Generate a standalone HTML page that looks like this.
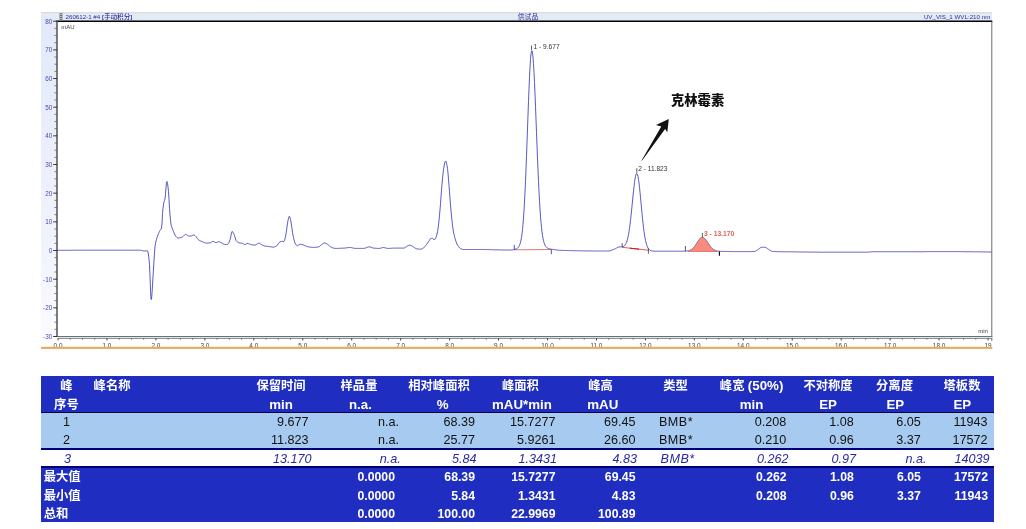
<!DOCTYPE html>
<html lang="zh"><head><meta charset="utf-8"><title>chromatogram</title>
<style>
html,body{margin:0;padding:0;background:#fff}
body{width:1026px;height:529px;position:relative;overflow:hidden;font-family:"Liberation Sans","Noto Sans CJK SC",sans-serif}
.bg{position:absolute;left:41.0px;width:953.0px}
.c{position:absolute;font-size:12.6px;white-space:nowrap;color:#111}
.c.h{color:#fff;font-weight:bold;font-size:12.3px}
.c.h.L,.c.h .L{font-size:13.3px}
.c.h.s{font-size:12.25px}
.c.b{letter-spacing:0.45px}
.c.i{color:#2a2aa0;font-style:italic}
</style></head><body>
<svg width="1026" height="360" viewBox="0 0 1026 360" style="position:absolute;left:0;top:0">
<defs>
<linearGradient id="tb" x1="0" y1="0" x2="0" y2="1"><stop offset="0" stop-color="#d9d9d6"/><stop offset="0.25" stop-color="#e6ecf4"/><stop offset="1" stop-color="#dde8f8"/></linearGradient>
<linearGradient id="ys" x1="0" y1="0" x2="0" y2="1"><stop offset="0" stop-color="#e3e9fa"/><stop offset="0.35" stop-color="#eaeefb"/><stop offset="0.7" stop-color="#f1f3fc"/><stop offset="1" stop-color="#fbfbff"/></linearGradient>
</defs>
<style>
text{font-family:"Liberation Sans","Noto Sans CJK SC",sans-serif}
.yl{font-size:6.4px;fill:#4a4ab0}
.xl{font-size:6.4px;fill:#444}
.tt{font-size:6.2px;fill:#2e2e9c}
.pk{font-size:6.6px;fill:#333}
</style>
<rect x="41" y="12" width="16" height="326" fill="url(#ys)"/>
<rect x="41" y="12" width="951" height="9.2" fill="url(#tb)"/>
<rect x="57" y="21.2" width="934.8" height="315.3" fill="#fff"/>
<!-- title bar -->
<rect x="59.6" y="13.2" width="2.8" height="6.6" fill="#6a6a72"/>
<rect x="60.2" y="14" width="1.6" height="1" fill="#c8c8d0"/><rect x="60.2" y="16" width="1.6" height="1" fill="#c8c8d0"/><rect x="60.2" y="18" width="1.6" height="1" fill="#c8c8d0"/>
<text x="65.5" y="19.2" class="tt">260612-1 #4 <tspan style="font-weight:bold;font-size:5.8px">[</tspan><tspan style="font-weight:500;font-size:6.6px">手动积分</tspan><tspan style="font-weight:bold;font-size:5.8px">]</tspan></text>
<text x="528" y="19.3" text-anchor="middle" class="tt" font-size="6.8px" style="font-size:6.8px">供试品</text>
<text x="990.3" y="19.2" text-anchor="end" class="tt">UV_VIS_1 WVL:210 nm</text>
<!-- frame -->
<line x1="56.2" y1="21.2" x2="992.3" y2="21.2" stroke="#000" stroke-width="1.4"/>
<line x1="991.8" y1="21.2" x2="991.8" y2="337" stroke="#505050" stroke-width="0.85"/>
<line x1="991.8" y1="338" x2="991.8" y2="340.8" stroke="#444" stroke-width="0.85"/>
<line x1="57" y1="336.6" x2="992.3" y2="336.6" stroke="#5a6468" stroke-width="1"/>
<line x1="57" y1="21.2" x2="57" y2="337" stroke="#666" stroke-width="1.7"/>
<line x1="58" y1="338.4" x2="992.3" y2="338.4" stroke="#777" stroke-width="0.9"/>
<line x1="53.2" y1="21.20" x2="57" y2="21.20" stroke="#222" stroke-width="0.9"/><line x1="54.4" y1="28.37" x2="57" y2="28.37" stroke="#555" stroke-width="0.7"/><line x1="54.4" y1="35.53" x2="57" y2="35.53" stroke="#555" stroke-width="0.7"/><line x1="54.4" y1="42.70" x2="57" y2="42.70" stroke="#555" stroke-width="0.7"/><line x1="53.2" y1="49.86" x2="57" y2="49.86" stroke="#222" stroke-width="0.9"/><line x1="54.4" y1="57.03" x2="57" y2="57.03" stroke="#555" stroke-width="0.7"/><line x1="54.4" y1="64.20" x2="57" y2="64.20" stroke="#555" stroke-width="0.7"/><line x1="54.4" y1="71.36" x2="57" y2="71.36" stroke="#555" stroke-width="0.7"/><line x1="53.2" y1="78.53" x2="57" y2="78.53" stroke="#222" stroke-width="0.9"/><line x1="54.4" y1="85.69" x2="57" y2="85.69" stroke="#555" stroke-width="0.7"/><line x1="54.4" y1="92.86" x2="57" y2="92.86" stroke="#555" stroke-width="0.7"/><line x1="54.4" y1="100.03" x2="57" y2="100.03" stroke="#555" stroke-width="0.7"/><line x1="53.2" y1="107.19" x2="57" y2="107.19" stroke="#222" stroke-width="0.9"/><line x1="54.4" y1="114.36" x2="57" y2="114.36" stroke="#555" stroke-width="0.7"/><line x1="54.4" y1="121.52" x2="57" y2="121.52" stroke="#555" stroke-width="0.7"/><line x1="54.4" y1="128.69" x2="57" y2="128.69" stroke="#555" stroke-width="0.7"/><line x1="53.2" y1="135.85" x2="57" y2="135.85" stroke="#222" stroke-width="0.9"/><line x1="54.4" y1="143.02" x2="57" y2="143.02" stroke="#555" stroke-width="0.7"/><line x1="54.4" y1="150.19" x2="57" y2="150.19" stroke="#555" stroke-width="0.7"/><line x1="54.4" y1="157.35" x2="57" y2="157.35" stroke="#555" stroke-width="0.7"/><line x1="53.2" y1="164.52" x2="57" y2="164.52" stroke="#222" stroke-width="0.9"/><line x1="54.4" y1="171.68" x2="57" y2="171.68" stroke="#555" stroke-width="0.7"/><line x1="54.4" y1="178.85" x2="57" y2="178.85" stroke="#555" stroke-width="0.7"/><line x1="54.4" y1="186.02" x2="57" y2="186.02" stroke="#555" stroke-width="0.7"/><line x1="53.2" y1="193.18" x2="57" y2="193.18" stroke="#222" stroke-width="0.9"/><line x1="54.4" y1="200.35" x2="57" y2="200.35" stroke="#555" stroke-width="0.7"/><line x1="54.4" y1="207.51" x2="57" y2="207.51" stroke="#555" stroke-width="0.7"/><line x1="54.4" y1="214.68" x2="57" y2="214.68" stroke="#555" stroke-width="0.7"/><line x1="53.2" y1="221.85" x2="57" y2="221.85" stroke="#222" stroke-width="0.9"/><line x1="54.4" y1="229.01" x2="57" y2="229.01" stroke="#555" stroke-width="0.7"/><line x1="54.4" y1="236.18" x2="57" y2="236.18" stroke="#555" stroke-width="0.7"/><line x1="54.4" y1="243.34" x2="57" y2="243.34" stroke="#555" stroke-width="0.7"/><line x1="53.2" y1="250.51" x2="57" y2="250.51" stroke="#222" stroke-width="0.9"/><line x1="54.4" y1="257.68" x2="57" y2="257.68" stroke="#555" stroke-width="0.7"/><line x1="54.4" y1="264.84" x2="57" y2="264.84" stroke="#555" stroke-width="0.7"/><line x1="54.4" y1="272.01" x2="57" y2="272.01" stroke="#555" stroke-width="0.7"/><line x1="53.2" y1="279.17" x2="57" y2="279.17" stroke="#222" stroke-width="0.9"/><line x1="54.4" y1="286.34" x2="57" y2="286.34" stroke="#555" stroke-width="0.7"/><line x1="54.4" y1="293.50" x2="57" y2="293.50" stroke="#555" stroke-width="0.7"/><line x1="54.4" y1="300.67" x2="57" y2="300.67" stroke="#555" stroke-width="0.7"/><line x1="53.2" y1="307.84" x2="57" y2="307.84" stroke="#222" stroke-width="0.9"/><line x1="54.4" y1="315.00" x2="57" y2="315.00" stroke="#555" stroke-width="0.7"/><line x1="54.4" y1="322.17" x2="57" y2="322.17" stroke="#555" stroke-width="0.7"/><line x1="54.4" y1="329.33" x2="57" y2="329.33" stroke="#555" stroke-width="0.7"/><line x1="53.2" y1="336.50" x2="57" y2="336.50" stroke="#222" stroke-width="0.9"/>
<text x="52.3" y="23.70" text-anchor="end" class="yl">80</text><text x="52.3" y="52.36" text-anchor="end" class="yl">70</text><text x="52.3" y="81.03" text-anchor="end" class="yl">60</text><text x="52.3" y="109.69" text-anchor="end" class="yl">50</text><text x="52.3" y="138.35" text-anchor="end" class="yl">40</text><text x="52.3" y="167.02" text-anchor="end" class="yl">30</text><text x="52.3" y="195.68" text-anchor="end" class="yl">20</text><text x="52.3" y="224.35" text-anchor="end" class="yl">10</text><text x="52.3" y="253.01" text-anchor="end" class="yl">0</text><text x="52.3" y="281.67" text-anchor="end" class="yl">-10</text><text x="52.3" y="310.34" text-anchor="end" class="yl">-20</text><text x="52.3" y="339.00" text-anchor="end" class="yl">-30</text>
<line x1="58.00" y1="338.4" x2="58.00" y2="340.4" stroke="#222" stroke-width="0.9"/><line x1="70.24" y1="338.4" x2="70.24" y2="339.7" stroke="#444" stroke-width="0.8"/><line x1="82.47" y1="338.4" x2="82.47" y2="339.7" stroke="#444" stroke-width="0.8"/><line x1="94.71" y1="338.4" x2="94.71" y2="339.7" stroke="#444" stroke-width="0.8"/><line x1="106.95" y1="338.4" x2="106.95" y2="340.4" stroke="#222" stroke-width="0.9"/><line x1="119.19" y1="338.4" x2="119.19" y2="339.7" stroke="#444" stroke-width="0.8"/><line x1="131.43" y1="338.4" x2="131.43" y2="339.7" stroke="#444" stroke-width="0.8"/><line x1="143.66" y1="338.4" x2="143.66" y2="339.7" stroke="#444" stroke-width="0.8"/><line x1="155.90" y1="338.4" x2="155.90" y2="340.4" stroke="#222" stroke-width="0.9"/><line x1="168.14" y1="338.4" x2="168.14" y2="339.7" stroke="#444" stroke-width="0.8"/><line x1="180.38" y1="338.4" x2="180.38" y2="339.7" stroke="#444" stroke-width="0.8"/><line x1="192.61" y1="338.4" x2="192.61" y2="339.7" stroke="#444" stroke-width="0.8"/><line x1="204.85" y1="338.4" x2="204.85" y2="340.4" stroke="#222" stroke-width="0.9"/><line x1="217.09" y1="338.4" x2="217.09" y2="339.7" stroke="#444" stroke-width="0.8"/><line x1="229.33" y1="338.4" x2="229.33" y2="339.7" stroke="#444" stroke-width="0.8"/><line x1="241.56" y1="338.4" x2="241.56" y2="339.7" stroke="#444" stroke-width="0.8"/><line x1="253.80" y1="338.4" x2="253.80" y2="340.4" stroke="#222" stroke-width="0.9"/><line x1="266.04" y1="338.4" x2="266.04" y2="339.7" stroke="#444" stroke-width="0.8"/><line x1="278.27" y1="338.4" x2="278.27" y2="339.7" stroke="#444" stroke-width="0.8"/><line x1="290.51" y1="338.4" x2="290.51" y2="339.7" stroke="#444" stroke-width="0.8"/><line x1="302.75" y1="338.4" x2="302.75" y2="340.4" stroke="#222" stroke-width="0.9"/><line x1="314.99" y1="338.4" x2="314.99" y2="339.7" stroke="#444" stroke-width="0.8"/><line x1="327.23" y1="338.4" x2="327.23" y2="339.7" stroke="#444" stroke-width="0.8"/><line x1="339.46" y1="338.4" x2="339.46" y2="339.7" stroke="#444" stroke-width="0.8"/><line x1="351.70" y1="338.4" x2="351.70" y2="340.4" stroke="#222" stroke-width="0.9"/><line x1="363.94" y1="338.4" x2="363.94" y2="339.7" stroke="#444" stroke-width="0.8"/><line x1="376.18" y1="338.4" x2="376.18" y2="339.7" stroke="#444" stroke-width="0.8"/><line x1="388.41" y1="338.4" x2="388.41" y2="339.7" stroke="#444" stroke-width="0.8"/><line x1="400.65" y1="338.4" x2="400.65" y2="340.4" stroke="#222" stroke-width="0.9"/><line x1="412.89" y1="338.4" x2="412.89" y2="339.7" stroke="#444" stroke-width="0.8"/><line x1="425.12" y1="338.4" x2="425.12" y2="339.7" stroke="#444" stroke-width="0.8"/><line x1="437.36" y1="338.4" x2="437.36" y2="339.7" stroke="#444" stroke-width="0.8"/><line x1="449.60" y1="338.4" x2="449.60" y2="340.4" stroke="#222" stroke-width="0.9"/><line x1="461.84" y1="338.4" x2="461.84" y2="339.7" stroke="#444" stroke-width="0.8"/><line x1="474.08" y1="338.4" x2="474.08" y2="339.7" stroke="#444" stroke-width="0.8"/><line x1="486.31" y1="338.4" x2="486.31" y2="339.7" stroke="#444" stroke-width="0.8"/><line x1="498.55" y1="338.4" x2="498.55" y2="340.4" stroke="#222" stroke-width="0.9"/><line x1="510.79" y1="338.4" x2="510.79" y2="339.7" stroke="#444" stroke-width="0.8"/><line x1="523.03" y1="338.4" x2="523.03" y2="339.7" stroke="#444" stroke-width="0.8"/><line x1="535.26" y1="338.4" x2="535.26" y2="339.7" stroke="#444" stroke-width="0.8"/><line x1="547.50" y1="338.4" x2="547.50" y2="340.4" stroke="#222" stroke-width="0.9"/><line x1="559.74" y1="338.4" x2="559.74" y2="339.7" stroke="#444" stroke-width="0.8"/><line x1="571.98" y1="338.4" x2="571.98" y2="339.7" stroke="#444" stroke-width="0.8"/><line x1="584.21" y1="338.4" x2="584.21" y2="339.7" stroke="#444" stroke-width="0.8"/><line x1="596.45" y1="338.4" x2="596.45" y2="340.4" stroke="#222" stroke-width="0.9"/><line x1="608.69" y1="338.4" x2="608.69" y2="339.7" stroke="#444" stroke-width="0.8"/><line x1="620.93" y1="338.4" x2="620.93" y2="339.7" stroke="#444" stroke-width="0.8"/><line x1="633.16" y1="338.4" x2="633.16" y2="339.7" stroke="#444" stroke-width="0.8"/><line x1="645.40" y1="338.4" x2="645.40" y2="340.4" stroke="#222" stroke-width="0.9"/><line x1="657.64" y1="338.4" x2="657.64" y2="339.7" stroke="#444" stroke-width="0.8"/><line x1="669.88" y1="338.4" x2="669.88" y2="339.7" stroke="#444" stroke-width="0.8"/><line x1="682.11" y1="338.4" x2="682.11" y2="339.7" stroke="#444" stroke-width="0.8"/><line x1="694.35" y1="338.4" x2="694.35" y2="340.4" stroke="#222" stroke-width="0.9"/><line x1="706.59" y1="338.4" x2="706.59" y2="339.7" stroke="#444" stroke-width="0.8"/><line x1="718.83" y1="338.4" x2="718.83" y2="339.7" stroke="#444" stroke-width="0.8"/><line x1="731.06" y1="338.4" x2="731.06" y2="339.7" stroke="#444" stroke-width="0.8"/><line x1="743.30" y1="338.4" x2="743.30" y2="340.4" stroke="#222" stroke-width="0.9"/><line x1="755.54" y1="338.4" x2="755.54" y2="339.7" stroke="#444" stroke-width="0.8"/><line x1="767.78" y1="338.4" x2="767.78" y2="339.7" stroke="#444" stroke-width="0.8"/><line x1="780.01" y1="338.4" x2="780.01" y2="339.7" stroke="#444" stroke-width="0.8"/><line x1="792.25" y1="338.4" x2="792.25" y2="340.4" stroke="#222" stroke-width="0.9"/><line x1="804.49" y1="338.4" x2="804.49" y2="339.7" stroke="#444" stroke-width="0.8"/><line x1="816.73" y1="338.4" x2="816.73" y2="339.7" stroke="#444" stroke-width="0.8"/><line x1="828.96" y1="338.4" x2="828.96" y2="339.7" stroke="#444" stroke-width="0.8"/><line x1="841.20" y1="338.4" x2="841.20" y2="340.4" stroke="#222" stroke-width="0.9"/><line x1="853.44" y1="338.4" x2="853.44" y2="339.7" stroke="#444" stroke-width="0.8"/><line x1="865.68" y1="338.4" x2="865.68" y2="339.7" stroke="#444" stroke-width="0.8"/><line x1="877.91" y1="338.4" x2="877.91" y2="339.7" stroke="#444" stroke-width="0.8"/><line x1="890.15" y1="338.4" x2="890.15" y2="340.4" stroke="#222" stroke-width="0.9"/><line x1="902.39" y1="338.4" x2="902.39" y2="339.7" stroke="#444" stroke-width="0.8"/><line x1="914.62" y1="338.4" x2="914.62" y2="339.7" stroke="#444" stroke-width="0.8"/><line x1="926.86" y1="338.4" x2="926.86" y2="339.7" stroke="#444" stroke-width="0.8"/><line x1="939.10" y1="338.4" x2="939.10" y2="340.4" stroke="#222" stroke-width="0.9"/><line x1="951.34" y1="338.4" x2="951.34" y2="339.7" stroke="#444" stroke-width="0.8"/><line x1="963.58" y1="338.4" x2="963.58" y2="339.7" stroke="#444" stroke-width="0.8"/><line x1="975.81" y1="338.4" x2="975.81" y2="339.7" stroke="#444" stroke-width="0.8"/><line x1="988.05" y1="338.4" x2="988.05" y2="340.4" stroke="#222" stroke-width="0.9"/>
<text x="58.00" y="347.6" text-anchor="middle" class="xl">0.0</text><text x="106.95" y="347.6" text-anchor="middle" class="xl">1.0</text><text x="155.90" y="347.6" text-anchor="middle" class="xl">2.0</text><text x="204.85" y="347.6" text-anchor="middle" class="xl">3.0</text><text x="253.80" y="347.6" text-anchor="middle" class="xl">4.0</text><text x="302.75" y="347.6" text-anchor="middle" class="xl">5.0</text><text x="351.70" y="347.6" text-anchor="middle" class="xl">6.0</text><text x="400.65" y="347.6" text-anchor="middle" class="xl">7.0</text><text x="449.60" y="347.6" text-anchor="middle" class="xl">8.0</text><text x="498.55" y="347.6" text-anchor="middle" class="xl">9.0</text><text x="547.50" y="347.6" text-anchor="middle" class="xl">10.0</text><text x="596.45" y="347.6" text-anchor="middle" class="xl">11.0</text><text x="645.40" y="347.6" text-anchor="middle" class="xl">12.0</text><text x="694.35" y="347.6" text-anchor="middle" class="xl">13.0</text><text x="743.30" y="347.6" text-anchor="middle" class="xl">14.0</text><text x="792.25" y="347.6" text-anchor="middle" class="xl">15.0</text><text x="841.20" y="347.6" text-anchor="middle" class="xl">16.0</text><text x="890.15" y="347.6" text-anchor="middle" class="xl">17.0</text><text x="939.10" y="347.6" text-anchor="middle" class="xl">18.0</text><text x="991.5" y="347.6" text-anchor="end" class="xl">19</text>
<rect x="41" y="346.8" width="951.3" height="2.1" fill="#e6a95e"/>
<text x="61.2" y="28.9" class="pk" style="font-size:6px;fill:#444">mAU</text>
<text x="988" y="332.8" text-anchor="end" class="pk" style="font-size:6.1px;fill:#444">min</text>
<!-- baselines -->
<line x1="514.3" y1="249.8" x2="551.3" y2="249.5" stroke="#d06040" stroke-width="0.8"/>
<line x1="622.2" y1="247.3" x2="648.4" y2="250.2" stroke="#e04848" stroke-width="0.9"/>
<line x1="630" y1="248.2" x2="639" y2="249.2" stroke="#b02020" stroke-width="1"/>
<!-- curve -->
<path d="M57.0,250.3 L57.5,250.3 L58.0,250.3 L58.5,250.3 L59.0,250.3 L59.5,250.3 L60.0,250.3 L60.5,250.3 L61.0,250.3 L61.5,250.3 L62.0,250.3 L62.5,250.3 L63.0,250.3 L63.5,250.3 L64.0,250.3 L64.5,250.3 L65.0,250.3 L65.5,250.3 L66.0,250.3 L66.5,250.3 L67.0,250.3 L67.5,250.3 L68.0,250.3 L68.5,250.3 L69.0,250.3 L69.5,250.3 L70.0,250.3 L70.5,250.3 L71.0,250.3 L71.5,250.2 L72.0,250.2 L72.5,250.2 L73.0,250.2 L73.5,250.2 L74.0,250.2 L74.5,250.2 L75.0,250.2 L75.5,250.2 L76.0,250.2 L76.5,250.2 L77.0,250.2 L77.5,250.2 L78.0,250.2 L78.5,250.2 L79.0,250.2 L79.5,250.2 L80.0,250.2 L80.5,250.2 L81.0,250.2 L81.5,250.2 L82.0,250.2 L82.5,250.2 L83.0,250.2 L83.5,250.2 L84.0,250.2 L84.5,250.2 L85.0,250.2 L85.5,250.2 L86.0,250.2 L86.5,250.2 L87.0,250.2 L87.5,250.2 L88.0,250.2 L88.5,250.2 L89.0,250.2 L89.5,250.2 L90.0,250.2 L90.5,250.2 L91.0,250.2 L91.5,250.2 L92.0,250.2 L92.5,250.2 L93.0,250.2 L93.5,250.2 L94.0,250.2 L94.5,250.2 L95.0,250.2 L95.5,250.2 L96.0,250.2 L96.5,250.2 L97.0,250.2 L97.5,250.2 L98.0,250.2 L98.5,250.2 L99.0,250.2 L99.5,250.2 L100.0,250.2 L100.5,250.2 L101.0,250.2 L101.5,250.2 L102.0,250.2 L102.5,250.2 L103.0,250.2 L103.5,250.2 L104.0,250.2 L104.5,250.2 L105.0,250.2 L105.5,250.2 L106.0,250.2 L106.5,250.2 L107.0,250.2 L107.5,250.2 L108.0,250.2 L108.5,250.2 L109.0,250.2 L109.5,250.2 L110.0,250.2 L110.5,250.2 L111.0,250.2 L111.5,250.2 L112.0,250.2 L112.5,250.2 L113.0,250.2 L113.5,250.2 L114.0,250.2 L114.5,250.2 L115.0,250.2 L115.5,250.2 L116.0,250.2 L116.5,250.2 L117.0,250.2 L117.5,250.2 L118.0,250.2 L118.5,250.2 L119.0,250.2 L119.5,250.2 L120.0,250.2 L120.5,250.2 L121.0,250.2 L121.5,250.2 L122.0,250.2 L122.5,250.2 L123.0,250.2 L123.5,250.2 L124.0,250.2 L124.5,250.2 L125.0,250.2 L125.5,250.2 L126.0,250.2 L126.5,250.2 L127.0,250.2 L127.5,250.2 L128.0,250.2 L128.5,250.2 L129.0,250.2 L129.5,250.2 L130.0,250.2 L130.5,250.2 L131.0,250.2 L131.5,250.2 L132.0,250.2 L132.5,250.2 L133.0,250.2 L133.5,250.2 L134.0,250.2 L134.5,250.2 L135.0,250.2 L135.5,250.2 L136.0,250.2 L136.5,250.2 L137.0,250.2 L137.5,250.2 L138.0,250.2 L138.5,250.2 L139.0,250.2 L139.5,250.2 L140.0,250.2 L140.5,250.2 L141.0,250.3 L141.5,250.5 L142.0,250.6 L142.5,250.7 L143.0,250.9 L143.5,251.0 L144.0,251.0 L144.5,251.0 L145.0,251.0 L145.5,250.9 L146.0,250.9 L146.5,250.8 L147.0,250.8 L147.5,250.8 L148.0,252.0 L148.5,255.0 L149.0,259.2 L149.5,264.7 L150.0,276.4 L150.5,290.1 L151.0,299.4 L151.5,299.3 L152.0,293.6 L152.5,285.2 L153.0,276.5 L153.5,269.0 L154.0,260.7 L154.5,252.8 L155.0,246.7 L155.5,243.4 L156.0,241.1 L156.5,239.3 L157.0,237.7 L157.5,236.2 L158.0,234.8 L158.5,233.6 L159.0,232.5 L159.5,231.4 L160.0,230.5 L160.5,229.9 L161.0,229.2 L161.5,228.1 L162.0,223.5 L162.5,213.7 L163.0,208.6 L163.5,204.6 L164.0,201.8 L164.5,200.3 L165.0,198.8 L165.5,194.4 L166.0,187.7 L166.5,182.4 L167.0,181.5 L167.5,183.5 L168.0,186.9 L168.5,191.5 L169.0,199.5 L169.5,208.3 L170.0,215.0 L170.5,220.3 L171.0,224.2 L171.5,226.3 L172.0,227.8 L172.5,229.1 L173.0,230.2 L173.5,231.4 L174.0,232.7 L174.5,234.0 L175.0,235.0 L175.5,235.9 L176.0,236.5 L176.5,237.0 L177.0,237.5 L177.5,237.8 L178.0,238.0 L178.5,238.0 L179.0,237.9 L179.5,237.9 L180.0,237.8 L180.5,237.6 L181.0,237.5 L181.5,237.3 L182.0,237.1 L182.5,236.8 L183.0,236.4 L183.5,235.9 L184.0,235.4 L184.5,234.9 L185.0,234.6 L185.5,234.3 L186.0,234.3 L186.5,234.7 L187.0,235.2 L187.5,235.7 L188.0,236.0 L188.5,236.0 L189.0,236.0 L189.5,236.0 L190.0,236.0 L190.5,236.0 L191.0,236.0 L191.5,235.9 L192.0,235.6 L192.5,235.4 L193.0,235.1 L193.5,234.9 L194.0,234.9 L194.5,235.2 L195.0,235.6 L195.5,236.1 L196.0,236.6 L196.5,237.2 L197.0,238.0 L197.5,238.8 L198.0,239.4 L198.5,239.8 L199.0,240.1 L199.5,240.4 L200.0,240.7 L200.5,240.9 L201.0,241.2 L201.5,241.4 L202.0,241.6 L202.5,241.8 L203.0,242.0 L203.5,242.2 L204.0,242.4 L204.5,242.7 L205.0,242.8 L205.5,243.0 L206.0,243.1 L206.5,243.1 L207.0,243.1 L207.5,243.1 L208.0,243.0 L208.5,243.0 L209.0,243.0 L209.5,242.9 L210.0,242.8 L210.5,242.7 L211.0,242.5 L211.5,242.1 L212.0,241.8 L212.5,241.5 L213.0,241.4 L213.5,241.5 L214.0,241.7 L214.5,242.0 L215.0,242.3 L215.5,242.5 L216.0,242.6 L216.5,242.5 L217.0,242.3 L217.5,242.1 L218.0,241.8 L218.5,241.7 L219.0,241.7 L219.5,241.8 L220.0,242.0 L220.5,242.3 L221.0,242.5 L221.5,242.8 L222.0,243.0 L222.5,243.3 L223.0,243.6 L223.5,244.0 L224.0,244.2 L224.5,244.4 L225.0,244.5 L225.5,244.5 L226.0,244.5 L226.5,244.4 L227.0,244.4 L227.5,244.3 L228.0,244.2 L228.5,243.6 L229.0,242.5 L229.5,241.1 L230.0,239.7 L230.5,237.9 L231.0,235.3 L231.5,232.9 L232.0,231.5 L232.5,231.7 L233.0,232.4 L233.5,233.3 L234.0,234.3 L234.5,235.6 L235.0,237.3 L235.5,239.0 L236.0,240.4 L236.5,241.1 L237.0,241.6 L237.5,242.0 L238.0,242.3 L238.5,242.6 L239.0,242.8 L239.5,242.9 L240.0,243.0 L240.5,243.1 L241.0,243.1 L241.5,243.2 L242.0,243.3 L242.5,243.4 L243.0,243.6 L243.5,243.9 L244.0,244.2 L244.5,244.5 L245.0,244.5 L245.5,244.3 L246.0,244.1 L246.5,243.8 L247.0,243.6 L247.5,243.4 L248.0,243.4 L248.5,243.6 L249.0,243.8 L249.5,244.1 L250.0,244.3 L250.5,244.5 L251.0,244.6 L251.5,244.7 L252.0,244.8 L252.5,244.9 L253.0,245.0 L253.5,245.0 L254.0,245.1 L254.5,245.1 L255.0,245.1 L255.5,244.9 L256.0,244.7 L256.5,244.4 L257.0,244.1 L257.5,243.8 L258.0,243.5 L258.5,243.2 L259.0,243.1 L259.5,243.2 L260.0,243.5 L260.5,243.9 L261.0,244.3 L261.5,244.6 L262.0,244.9 L262.5,245.1 L263.0,245.4 L263.5,245.6 L264.0,245.8 L264.5,246.0 L265.0,246.1 L265.5,246.1 L266.0,246.2 L266.5,246.3 L267.0,246.3 L267.5,246.3 L268.0,246.4 L268.5,246.5 L269.0,246.5 L269.5,246.6 L270.0,246.7 L270.5,246.8 L271.0,246.9 L271.5,246.9 L272.0,247.0 L272.5,247.1 L273.0,247.1 L273.5,247.1 L274.0,247.0 L274.5,246.9 L275.0,246.7 L275.5,246.5 L276.0,246.3 L276.5,246.1 L277.0,245.6 L277.5,244.9 L278.0,244.1 L278.5,243.3 L279.0,242.7 L279.5,242.3 L280.0,241.9 L280.5,241.6 L281.0,241.4 L281.5,241.4 L282.0,241.4 L282.5,241.4 L283.0,241.4 L283.5,241.4 L284.0,241.4 L284.5,240.7 L285.0,238.8 L285.5,236.4 L286.0,233.8 L286.5,230.7 L287.0,226.9 L287.5,223.2 L288.0,220.6 L288.5,218.4 L289.0,216.7 L289.5,216.2 L290.0,217.4 L290.5,219.6 L291.0,222.0 L291.5,225.1 L292.0,228.8 L292.5,232.3 L293.0,235.2 L293.5,237.5 L294.0,239.7 L294.5,241.7 L295.0,243.1 L295.5,244.0 L296.0,244.7 L296.5,245.3 L297.0,245.6 L297.5,245.7 L298.0,245.5 L298.5,245.1 L299.0,244.8 L299.5,244.5 L300.0,244.3 L300.5,244.3 L301.0,244.4 L301.5,244.5 L302.0,244.6 L302.5,244.7 L303.0,244.8 L303.5,244.9 L304.0,245.1 L304.5,245.4 L305.0,245.6 L305.5,245.8 L306.0,246.1 L306.5,246.3 L307.0,246.4 L307.5,246.6 L308.0,246.7 L308.5,246.8 L309.0,246.9 L309.5,247.0 L310.0,247.1 L310.5,247.2 L311.0,247.3 L311.5,247.3 L312.0,247.4 L312.5,247.4 L313.0,247.4 L313.5,247.4 L314.0,247.4 L314.5,247.4 L315.0,247.3 L315.5,247.3 L316.0,247.2 L316.5,247.2 L317.0,247.1 L317.5,247.1 L318.0,247.0 L318.5,246.9 L319.0,246.7 L319.5,246.4 L320.0,246.0 L320.5,245.5 L321.0,245.1 L321.5,244.7 L322.0,244.3 L322.5,244.0 L323.0,243.7 L323.5,243.4 L324.0,243.2 L324.5,243.0 L325.0,243.0 L325.5,243.1 L326.0,243.4 L326.5,243.7 L327.0,244.0 L327.5,244.3 L328.0,244.7 L328.5,245.1 L329.0,245.5 L329.5,245.9 L330.0,246.4 L330.5,246.7 L331.0,247.1 L331.5,247.3 L332.0,247.5 L332.5,247.7 L333.0,247.9 L333.5,248.1 L334.0,248.2 L334.5,248.3 L335.0,248.4 L335.5,248.4 L336.0,248.4 L336.5,248.4 L337.0,248.4 L337.5,248.4 L338.0,248.4 L338.5,248.4 L339.0,248.3 L339.5,248.3 L340.0,248.3 L340.5,248.3 L341.0,248.3 L341.5,248.2 L342.0,248.2 L342.5,248.2 L343.0,248.2 L343.5,248.1 L344.0,248.1 L344.5,248.1 L345.0,248.0 L345.5,248.0 L346.0,247.9 L346.5,247.8 L347.0,247.7 L347.5,247.7 L348.0,247.6 L348.5,247.6 L349.0,247.5 L349.5,247.5 L350.0,247.5 L350.5,247.5 L351.0,247.6 L351.5,247.7 L352.0,247.8 L352.5,247.9 L353.0,248.1 L353.5,248.2 L354.0,248.3 L354.5,248.3 L355.0,248.4 L355.5,248.4 L356.0,248.4 L356.5,248.4 L357.0,248.4 L357.5,248.4 L358.0,248.4 L358.5,248.4 L359.0,248.4 L359.5,248.4 L360.0,248.4 L360.5,248.4 L361.0,248.4 L361.5,248.4 L362.0,248.4 L362.5,248.4 L363.0,248.4 L363.5,248.4 L364.0,248.4 L364.5,248.3 L365.0,248.2 L365.5,248.0 L366.0,247.8 L366.5,247.6 L367.0,247.4 L367.5,247.2 L368.0,247.1 L368.5,246.9 L369.0,246.9 L369.5,246.9 L370.0,247.0 L370.5,247.1 L371.0,247.3 L371.5,247.5 L372.0,247.7 L372.5,247.8 L373.0,248.0 L373.5,248.1 L374.0,248.1 L374.5,248.2 L375.0,248.2 L375.5,248.2 L376.0,248.3 L376.5,248.3 L377.0,248.3 L377.5,248.4 L378.0,248.4 L378.5,248.4 L379.0,248.4 L379.5,248.4 L380.0,248.4 L380.5,248.2 L381.0,248.1 L381.5,247.9 L382.0,247.7 L382.5,247.6 L383.0,247.5 L383.5,247.5 L384.0,247.6 L384.5,247.7 L385.0,247.8 L385.5,247.9 L386.0,248.1 L386.5,248.2 L387.0,248.3 L387.5,248.4 L388.0,248.4 L388.5,248.4 L389.0,248.4 L389.5,248.4 L390.0,248.3 L390.5,248.3 L391.0,248.3 L391.5,248.3 L392.0,248.2 L392.5,248.2 L393.0,248.2 L393.5,248.1 L394.0,248.1 L394.5,248.1 L395.0,248.1 L395.5,248.1 L396.0,248.1 L396.5,248.1 L397.0,248.1 L397.5,248.1 L398.0,248.1 L398.5,248.1 L399.0,248.1 L399.5,248.1 L400.0,248.1 L400.5,248.1 L401.0,248.1 L401.5,248.1 L402.0,248.1 L402.5,248.1 L403.0,248.1 L403.5,248.1 L404.0,248.1 L404.5,247.9 L405.0,247.6 L405.5,247.3 L406.0,247.0 L406.5,246.6 L407.0,246.3 L407.5,246.0 L408.0,245.8 L408.5,245.6 L409.0,245.4 L409.5,245.2 L410.0,245.2 L410.5,245.3 L411.0,245.5 L411.5,245.7 L412.0,246.0 L412.5,246.3 L413.0,246.6 L413.5,246.9 L414.0,247.3 L414.5,247.6 L415.0,248.0 L415.5,248.3 L416.0,248.6 L416.5,248.7 L417.0,248.8 L417.5,248.9 L418.0,249.0 L418.5,249.1 L419.0,249.1 L419.5,249.2 L420.0,249.2 L420.5,249.2 L421.0,249.1 L421.5,249.0 L422.0,248.8 L422.5,248.6 L423.0,248.4 L423.5,248.0 L424.0,247.5 L424.5,247.0 L425.0,246.4 L425.5,245.7 L426.0,245.1 L426.5,244.5 L427.0,243.8 L427.5,243.1 L428.0,242.4 L428.5,241.7 L429.0,241.0 L429.5,240.1 L430.0,239.2 L430.5,238.6 L431.0,238.4 L431.5,238.4 L432.0,238.4 L432.5,238.4 L433.0,238.7 L433.5,239.5 L434.0,239.9 L434.5,239.7 L435.0,239.1 L435.5,238.2 L436.0,237.3 L436.5,235.9 L437.0,234.0 L437.5,231.8 L438.0,229.0 L438.5,225.1 L439.0,220.4 L439.5,215.2 L440.0,209.8 L440.5,203.6 L441.0,196.8 L441.5,190.1 L442.0,184.3 L442.5,178.9 L443.0,173.8 L443.5,169.5 L444.0,166.5 L444.5,164.0 L445.0,162.0 L445.5,161.0 L446.0,161.5 L446.5,163.1 L447.0,165.4 L447.5,168.3 L448.0,173.1 L448.5,179.2 L449.0,185.4 L449.5,191.7 L450.0,198.5 L450.5,205.1 L451.0,210.9 L451.5,216.0 L452.0,220.8 L452.5,225.2 L453.0,228.9 L453.5,231.9 L454.0,234.4 L454.5,236.5 L455.0,238.3 L455.5,239.9 L456.0,241.5 L456.5,242.9 L457.0,244.0 L457.5,245.0 L458.0,245.8 L458.5,246.5 L459.0,247.1 L459.5,247.7 L460.0,248.1 L460.5,248.5 L461.0,248.7 L461.5,249.0 L462.0,249.2 L462.5,249.4 L463.0,249.5 L463.5,249.5 L464.0,249.5 L464.5,249.5 L465.0,249.5 L465.5,249.5 L466.0,249.5 L466.5,249.5 L467.0,249.5 L467.5,249.5 L468.0,249.5 L468.5,249.5 L469.0,249.5 L469.5,249.5 L470.0,249.5 L470.5,249.5 L471.0,249.5 L471.5,249.5 L472.0,249.5 L472.5,249.5 L473.0,249.5 L473.5,249.5 L474.0,249.5 L474.5,249.5 L475.0,249.5 L475.5,249.5 L476.0,249.5 L476.5,249.5 L477.0,249.5 L477.5,249.5 L478.0,249.5 L478.5,249.5 L479.0,249.5 L479.5,249.5 L480.0,249.5 L480.5,249.5 L481.0,249.5 L481.5,249.5 L482.0,249.5 L482.5,249.5 L483.0,249.5 L483.5,249.5 L484.0,249.5 L484.5,249.5 L485.0,249.5 L485.5,249.5 L486.0,249.6 L486.5,249.6 L487.0,249.6 L487.5,249.6 L488.0,249.6 L488.5,249.6 L489.0,249.6 L489.5,249.6 L490.0,249.6 L490.5,249.6 L491.0,249.7 L491.5,249.7 L492.0,249.7 L492.5,249.7 L493.0,249.7 L493.5,249.7 L494.0,249.7 L494.5,249.8 L495.0,249.8 L495.5,249.8 L496.0,249.8 L496.5,249.8 L497.0,249.8 L497.5,249.8 L498.0,249.8 L498.5,249.9 L499.0,249.9 L499.5,249.9 L500.0,249.9 L500.5,249.9 L501.0,249.9 L501.5,249.9 L502.0,249.9 L502.5,250.0 L503.0,250.0 L503.5,250.0 L504.0,250.0 L504.5,250.0 L505.0,250.0 L505.5,250.0 L506.0,250.0 L506.5,250.0 L507.0,250.0 L507.5,250.0 L508.0,250.0 L508.5,250.0 L509.0,250.0 L509.5,250.0 L510.0,250.0 L510.5,250.0 L511.0,250.0 L511.5,250.0 L512.0,249.9 L512.5,249.9 L513.0,249.7 L513.5,249.6 L514.0,249.5 L514.5,249.4 L515.0,249.3 L515.5,249.1 L516.0,249.0 L516.5,248.8 L517.0,248.5 L517.5,248.2 L518.0,247.7 L518.5,247.2 L519.0,246.4 L519.5,245.4 L520.0,244.0 L520.5,242.3 L521.0,240.1 L521.5,237.3 L522.0,233.8 L522.5,229.5 L523.0,224.2 L523.5,217.9 L524.0,210.5 L524.5,202.0 L525.0,192.2 L525.5,181.3 L526.0,169.3 L526.5,156.4 L527.0,142.9 L527.5,128.9 L528.0,115.0 L528.5,101.4 L529.0,88.7 L529.5,77.2 L530.0,67.3 L530.5,59.4 L531.0,53.9 L531.5,51.0 L532.0,50.6 L532.5,52.8 L533.0,57.2 L533.5,63.8 L534.0,72.3 L534.5,82.5 L535.0,93.9 L535.5,106.3 L536.0,119.2 L536.5,132.4 L537.0,145.4 L537.5,158.1 L538.0,170.1 L538.5,181.3 L539.0,191.6 L539.5,200.8 L540.0,209.0 L540.5,216.2 L541.0,222.3 L541.5,227.5 L542.0,231.8 L542.5,235.4 L543.0,238.3 L543.5,240.7 L544.0,242.5 L544.5,244.0 L545.0,245.2 L545.5,246.1 L546.0,246.8 L546.5,247.3 L547.0,247.8 L547.5,248.1 L548.0,248.3 L548.5,248.6 L549.0,248.7 L549.5,248.9 L550.0,249.0 L550.5,249.1 L551.0,249.1 L551.5,249.2 L552.0,249.3 L552.5,249.3 L553.0,249.4 L553.5,249.5 L554.0,249.6 L554.5,249.6 L555.0,249.7 L555.5,249.8 L556.0,249.9 L556.5,249.9 L557.0,250.0 L557.5,250.1 L558.0,250.1 L558.5,250.2 L559.0,250.2 L559.5,250.3 L560.0,250.3 L560.5,250.3 L561.0,250.3 L561.5,250.3 L562.0,250.4 L562.5,250.4 L563.0,250.4 L563.5,250.4 L564.0,250.4 L564.5,250.5 L565.0,250.5 L565.5,250.5 L566.0,250.5 L566.5,250.5 L567.0,250.5 L567.5,250.6 L568.0,250.6 L568.5,250.6 L569.0,250.6 L569.5,250.6 L570.0,250.6 L570.5,250.6 L571.0,250.6 L571.5,250.6 L572.0,250.7 L572.5,250.7 L573.0,250.7 L573.5,250.7 L574.0,250.7 L574.5,250.7 L575.0,250.7 L575.5,250.7 L576.0,250.7 L576.5,250.7 L577.0,250.8 L577.5,250.8 L578.0,250.8 L578.5,250.8 L579.0,250.8 L579.5,250.8 L580.0,250.8 L580.5,250.8 L581.0,250.8 L581.5,250.8 L582.0,250.8 L582.5,250.8 L583.0,250.8 L583.5,250.9 L584.0,250.9 L584.5,250.9 L585.0,250.9 L585.5,250.9 L586.0,250.9 L586.5,250.9 L587.0,250.9 L587.5,250.9 L588.0,250.9 L588.5,250.9 L589.0,250.9 L589.5,250.9 L590.0,250.9 L590.5,250.9 L591.0,250.9 L591.5,251.0 L592.0,251.0 L592.5,251.0 L593.0,251.0 L593.5,251.0 L594.0,251.0 L594.5,251.0 L595.0,251.0 L595.5,251.0 L596.0,251.0 L596.5,251.0 L597.0,251.0 L597.5,251.0 L598.0,251.0 L598.5,251.0 L599.0,251.0 L599.5,251.0 L600.0,251.0 L600.5,251.0 L601.0,251.0 L601.5,251.0 L602.0,251.0 L602.5,251.0 L603.0,251.0 L603.5,251.0 L604.0,251.0 L604.5,251.0 L605.0,251.0 L605.5,251.0 L606.0,251.0 L606.5,251.0 L607.0,251.0 L607.5,251.0 L608.0,251.0 L608.5,251.0 L609.0,251.0 L609.5,250.9 L610.0,250.8 L610.5,250.6 L611.0,250.5 L611.5,250.3 L612.0,250.1 L612.5,249.9 L613.0,249.7 L613.5,249.5 L614.0,249.3 L614.5,249.1 L615.0,248.9 L615.5,248.6 L616.0,248.3 L616.5,248.1 L617.0,247.8 L617.5,247.5 L618.0,247.3 L618.5,247.1 L619.0,247.0 L619.5,246.9 L620.0,246.8 L620.5,246.8 L621.0,246.8 L621.5,246.8 L622.0,246.8 L622.5,246.7 L623.0,246.6 L623.5,246.4 L624.0,246.1 L624.5,245.7 L625.0,245.2 L625.5,244.5 L626.0,243.6 L626.5,242.4 L627.0,241.0 L627.5,239.2 L628.0,237.1 L628.5,234.6 L629.0,231.7 L629.5,228.3 L630.0,224.5 L630.5,220.4 L631.0,215.9 L631.5,211.1 L632.0,206.1 L632.5,201.0 L633.0,196.0 L633.5,191.1 L634.0,186.6 L634.5,182.6 L635.0,179.1 L635.5,176.4 L636.0,174.6 L636.5,173.6 L637.0,173.6 L637.5,174.5 L638.0,176.5 L638.5,179.4 L639.0,183.0 L639.5,187.3 L640.0,192.2 L640.5,197.3 L641.0,202.7 L641.5,208.1 L642.0,213.4 L642.5,218.4 L643.0,223.1 L643.5,227.5 L644.0,231.4 L644.5,234.9 L645.0,237.9 L645.5,240.4 L646.0,242.6 L646.5,244.4 L647.0,245.9 L647.5,247.1 L648.0,248.0 L648.5,248.8 L649.0,249.3 L649.5,249.8 L650.0,250.2 L650.5,250.5 L651.0,250.7 L651.5,250.9 L652.0,251.0 L652.5,251.0 L653.0,251.1 L653.5,251.1 L654.0,251.1 L654.5,251.1 L655.0,251.2 L655.5,251.2 L656.0,251.2 L656.5,251.2 L657.0,251.2 L657.5,251.2 L658.0,251.2 L658.5,251.2 L659.0,251.2 L659.5,251.2 L660.0,251.2 L660.5,251.2 L661.0,251.2 L661.5,251.2 L662.0,251.2 L662.5,251.2 L663.0,251.2 L663.5,251.2 L664.0,251.2 L664.5,251.2 L665.0,251.2 L665.5,251.2 L666.0,251.2 L666.5,251.2 L667.0,251.2 L667.5,251.2 L668.0,251.2 L668.5,251.2 L669.0,251.2 L669.5,251.2 L670.0,251.2 L670.5,251.2 L671.0,251.2 L671.5,251.2 L672.0,251.2 L672.5,251.2 L673.0,251.2 L673.5,251.2 L674.0,251.2 L674.5,251.2 L675.0,251.2 L675.5,251.2 L676.0,251.2 L676.5,251.2 L677.0,251.2 L677.5,251.2 L678.0,251.2 L678.5,251.2 L679.0,251.2 L679.5,251.2 L680.0,251.2 L680.5,251.2 L681.0,251.2 L681.5,251.2 L682.0,251.2 L682.5,251.2 L683.0,251.2 L683.5,251.2 L684.0,251.2 L684.5,251.2 L685.0,251.1 L685.5,251.1 L686.0,251.1 L686.5,251.0 L687.0,251.0 L687.5,250.9 L688.0,250.9 L688.5,250.8 L689.0,250.6 L689.5,250.5 L690.0,250.3 L690.5,250.1 L691.0,249.8 L691.5,249.5 L692.0,249.2 L692.5,248.8 L693.0,248.3 L693.5,247.8 L694.0,247.3 L694.5,246.6 L695.0,246.0 L695.5,245.3 L696.0,244.5 L696.5,243.8 L697.0,243.0 L697.5,242.2 L698.0,241.4 L698.5,240.6 L699.0,239.9 L699.5,239.3 L700.0,238.7 L700.5,238.2 L701.0,237.8 L701.5,237.6 L702.0,237.4 L702.5,237.4 L703.0,237.5 L703.5,237.7 L704.0,238.0 L704.5,238.4 L705.0,238.9 L705.5,239.4 L706.0,240.1 L706.5,240.8 L707.0,241.5 L707.5,242.3 L708.0,243.0 L708.5,243.8 L709.0,244.6 L709.5,245.3 L710.0,246.0 L710.5,246.6 L711.0,247.3 L711.5,247.8 L712.0,248.3 L712.5,248.8 L713.0,249.2 L713.5,249.6 L714.0,249.9 L714.5,250.1 L715.0,250.4 L715.5,250.6 L716.0,250.7 L716.5,250.9 L717.0,251.0 L717.5,251.1 L718.0,251.2 L718.5,251.2 L719.0,251.3 L719.5,251.3 L720.0,251.3 L720.5,251.4 L721.0,251.4 L721.5,251.4 L722.0,251.4 L722.5,251.4 L723.0,251.4 L723.5,251.4 L724.0,251.5 L724.5,251.5 L725.0,251.5 L725.5,251.5 L726.0,251.5 L726.5,251.5 L727.0,251.5 L727.5,251.5 L728.0,251.5 L728.5,251.5 L729.0,251.5 L729.5,251.5 L730.0,251.5 L730.5,251.5 L731.0,251.5 L731.5,251.5 L732.0,251.6 L732.5,251.6 L733.0,251.6 L733.5,251.6 L734.0,251.6 L734.5,251.6 L735.0,251.6 L735.5,251.6 L736.0,251.6 L736.5,251.6 L737.0,251.6 L737.5,251.6 L738.0,251.6 L738.5,251.6 L739.0,251.6 L739.5,251.6 L740.0,251.6 L740.5,251.6 L741.0,251.6 L741.5,251.6 L742.0,251.6 L742.5,251.6 L743.0,251.6 L743.5,251.6 L744.0,251.6 L744.5,251.6 L745.0,251.6 L745.5,251.6 L746.0,251.6 L746.5,251.6 L747.0,251.6 L747.5,251.6 L748.0,251.6 L748.5,251.6 L749.0,251.6 L749.5,251.6 L750.0,251.6 L750.5,251.6 L751.0,251.5 L751.5,251.5 L752.0,251.5 L752.5,251.5 L753.0,251.5 L753.5,251.5 L754.0,251.5 L754.5,251.5 L755.0,251.3 L755.5,251.1 L756.0,250.8 L756.5,250.5 L757.0,250.2 L757.5,249.8 L758.0,249.5 L758.5,249.2 L759.0,248.8 L759.5,248.4 L760.0,248.0 L760.5,247.7 L761.0,247.5 L761.5,247.4 L762.0,247.3 L762.5,247.2 L763.0,247.2 L763.5,247.2 L764.0,247.2 L764.5,247.3 L765.0,247.3 L765.5,247.4 L766.0,247.6 L766.5,247.9 L767.0,248.3 L767.5,248.7 L768.0,249.0 L768.5,249.3 L769.0,249.6 L769.5,250.0 L770.0,250.3 L770.5,250.6 L771.0,250.9 L771.5,251.1 L772.0,251.3 L772.5,251.5 L773.0,251.5 L773.5,251.5 L774.0,251.5 L774.5,251.6 L775.0,251.6 L775.5,251.6 L776.0,251.6 L776.5,251.6 L777.0,251.6 L777.5,251.6 L778.0,251.7 L778.5,251.7 L779.0,251.7 L779.5,251.7 L780.0,251.7 L780.5,251.7 L781.0,251.7 L781.5,251.7 L782.0,251.7 L782.5,251.7 L783.0,251.7 L783.5,251.7 L784.0,251.7 L784.5,251.7 L785.0,251.7 L785.5,251.8 L786.0,251.8 L786.5,251.8 L787.0,251.8 L787.5,251.8 L788.0,251.8 L788.5,251.8 L789.0,251.8 L789.5,251.8 L790.0,251.8 L790.5,251.8 L791.0,251.8 L791.5,251.8 L792.0,251.8 L792.5,251.8 L793.0,251.8 L793.5,251.8 L794.0,251.9 L794.5,251.9 L795.0,251.9 L795.5,251.9 L796.0,251.9 L796.5,251.9 L797.0,251.9 L797.5,251.9 L798.0,251.9 L798.5,251.9 L799.0,251.9 L799.5,251.9 L800.0,251.9 L800.5,251.9 L801.0,252.0 L801.5,252.0 L802.0,252.0 L802.5,252.0 L803.0,252.0 L803.5,252.0 L804.0,252.0 L804.5,252.0 L805.0,252.0 L805.5,252.0 L806.0,252.0 L806.5,252.0 L807.0,252.0 L807.5,252.0 L808.0,252.0 L808.5,252.0 L809.0,252.1 L809.5,252.1 L810.0,252.1 L810.5,252.1 L811.0,252.1 L811.5,252.1 L812.0,252.1 L812.5,252.1 L813.0,252.1 L813.5,252.1 L814.0,252.1 L814.5,252.1 L815.0,252.1 L815.5,252.1 L816.0,252.1 L816.5,252.1 L817.0,252.1 L817.5,252.1 L818.0,252.1 L818.5,252.2 L819.0,252.2 L819.5,252.2 L820.0,252.2 L820.5,252.2 L821.0,252.2 L821.5,252.2 L822.0,252.2 L822.5,252.2 L823.0,252.2 L823.5,252.2 L824.0,252.2 L824.5,252.2 L825.0,252.2 L825.5,252.2 L826.0,252.2 L826.5,252.2 L827.0,252.2 L827.5,252.2 L828.0,252.2 L828.5,252.2 L829.0,252.2 L829.5,252.2 L830.0,252.2 L830.5,252.2 L831.0,252.2 L831.5,252.2 L832.0,252.2 L832.5,252.2 L833.0,252.2 L833.5,252.2 L834.0,252.2 L834.5,252.2 L835.0,252.2 L835.5,252.2 L836.0,252.2 L836.5,252.2 L837.0,252.2 L837.5,252.2 L838.0,252.2 L838.5,252.2 L839.0,252.2 L839.5,252.2 L840.0,252.2 L840.5,252.2 L841.0,252.2 L841.5,252.2 L842.0,252.2 L842.5,252.2 L843.0,252.2 L843.5,252.2 L844.0,252.2 L844.5,252.2 L845.0,252.2 L845.5,252.2 L846.0,252.2 L846.5,252.2 L847.0,252.2 L847.5,252.2 L848.0,252.2 L848.5,252.2 L849.0,252.2 L849.5,252.2 L850.0,252.2 L850.5,252.2 L851.0,252.2 L851.5,252.2 L852.0,252.2 L852.5,252.2 L853.0,252.2 L853.5,252.2 L854.0,252.2 L854.5,252.2 L855.0,252.2 L855.5,252.2 L856.0,252.2 L856.5,252.2 L857.0,252.2 L857.5,252.2 L858.0,252.2 L858.5,252.2 L859.0,252.2 L859.5,252.2 L860.0,252.2 L860.5,252.2 L861.0,252.2 L861.5,252.2 L862.0,252.2 L862.5,252.2 L863.0,252.2 L863.5,252.2 L864.0,252.2 L864.5,252.2 L865.0,252.2 L865.5,252.2 L866.0,252.2 L866.5,252.2 L867.0,252.1 L867.5,252.1 L868.0,252.1 L868.5,252.1 L869.0,252.0 L869.5,252.0 L870.0,251.9 L870.5,251.9 L871.0,251.9 L871.5,251.8 L872.0,251.8 L872.5,251.8 L873.0,251.8 L873.5,251.7 L874.0,251.7 L874.5,251.7 L875.0,251.7 L875.5,251.7 L876.0,251.7 L876.5,251.7 L877.0,251.7 L877.5,251.7 L878.0,251.7 L878.5,251.7 L879.0,251.7 L879.5,251.7 L880.0,251.7 L880.5,251.7 L881.0,251.7 L881.5,251.7 L882.0,251.7 L882.5,251.7 L883.0,251.7 L883.5,251.7 L884.0,251.7 L884.5,251.7 L885.0,251.7 L885.5,251.7 L886.0,251.7 L886.5,251.7 L887.0,251.7 L887.5,251.7 L888.0,251.7 L888.5,251.7 L889.0,251.7 L889.5,251.7 L890.0,251.7 L890.5,251.7 L891.0,251.7 L891.5,251.7 L892.0,251.7 L892.5,251.7 L893.0,251.7 L893.5,251.7 L894.0,251.7 L894.5,251.7 L895.0,251.7 L895.5,251.7 L896.0,251.7 L896.5,251.7 L897.0,251.7 L897.5,251.7 L898.0,251.7 L898.5,251.7 L899.0,251.7 L899.5,251.7 L900.0,251.7 L900.5,251.7 L901.0,251.7 L901.5,251.7 L902.0,251.7 L902.5,251.7 L903.0,251.7 L903.5,251.7 L904.0,251.7 L904.5,251.7 L905.0,251.7 L905.5,251.7 L906.0,251.7 L906.5,251.7 L907.0,251.7 L907.5,251.7 L908.0,251.7 L908.5,251.7 L909.0,251.7 L909.5,251.7 L910.0,251.7 L910.5,251.7 L911.0,251.7 L911.5,251.7 L912.0,251.7 L912.5,251.7 L913.0,251.7 L913.5,251.7 L914.0,251.7 L914.5,251.7 L915.0,251.7 L915.5,251.7 L916.0,251.7 L916.5,251.7 L917.0,251.7 L917.5,251.7 L918.0,251.7 L918.5,251.7 L919.0,251.7 L919.5,251.7 L920.0,251.7 L920.5,251.7 L921.0,251.7 L921.5,251.7 L922.0,251.7 L922.5,251.7 L923.0,251.7 L923.5,251.7 L924.0,251.7 L924.5,251.7 L925.0,251.7 L925.5,251.6 L926.0,251.6 L926.5,251.6 L927.0,251.6 L927.5,251.6 L928.0,251.6 L928.5,251.6 L929.0,251.6 L929.5,251.6 L930.0,251.6 L930.5,251.6 L931.0,251.6 L931.5,251.6 L932.0,251.6 L932.5,251.6 L933.0,251.6 L933.5,251.6 L934.0,251.6 L934.5,251.6 L935.0,251.6 L935.5,251.6 L936.0,251.6 L936.5,251.6 L937.0,251.6 L937.5,251.6 L938.0,251.6 L938.5,251.6 L939.0,251.6 L939.5,251.6 L940.0,251.6 L940.5,251.6 L941.0,251.6 L941.5,251.6 L942.0,251.6 L942.5,251.6 L943.0,251.6 L943.5,251.6 L944.0,251.6 L944.5,251.6 L945.0,251.6 L945.5,251.6 L946.0,251.6 L946.5,251.6 L947.0,251.6 L947.5,251.6 L948.0,251.6 L948.5,251.6 L949.0,251.6 L949.5,251.6 L950.0,251.6 L950.5,251.6 L951.0,251.6 L951.5,251.6 L952.0,251.6 L952.5,251.6 L953.0,251.6 L953.5,251.6 L954.0,251.6 L954.5,251.6 L955.0,251.6 L955.5,251.6 L956.0,251.6 L956.5,251.6 L957.0,251.6 L957.5,251.6 L958.0,251.6 L958.5,251.6 L959.0,251.6 L959.5,251.6 L960.0,251.6 L960.5,251.6 L961.0,251.6 L961.5,251.6 L962.0,251.6 L962.5,251.7 L963.0,251.7 L963.5,251.7 L964.0,251.7 L964.5,251.7 L965.0,251.7 L965.5,251.7 L966.0,251.7 L966.5,251.7 L967.0,251.7 L967.5,251.7 L968.0,251.7 L968.5,251.7 L969.0,251.7 L969.5,251.7 L970.0,251.7 L970.5,251.7 L971.0,251.7 L971.5,251.7 L972.0,251.7 L972.5,251.8 L973.0,251.8 L973.5,251.8 L974.0,251.8 L974.5,251.8 L975.0,251.8 L975.5,251.8 L976.0,251.8 L976.5,251.8 L977.0,251.8 L977.5,251.8 L978.0,251.8 L978.5,251.8 L979.0,251.8 L979.5,251.8 L980.0,251.8 L980.5,251.8 L981.0,251.9 L981.5,251.9 L982.0,251.9 L982.5,251.9 L983.0,251.9 L983.5,251.9 L984.0,251.9 L984.5,251.9 L985.0,251.9 L985.5,251.9 L986.0,251.9 L986.5,251.9 L987.0,251.9 L987.5,251.9 L988.0,251.9 L988.5,252.0 L989.0,252.0 L989.5,252.0 L990.0,252.0 L990.5,252.0 L991.0,252.0 L991.5,252.0" fill="none" stroke="#3a3ab8" stroke-width="0.85" stroke-linejoin="round"/>
<!-- peak 3 fill -->
<path d="M688,251.3 L688.0,250.9 L688.5,250.8 L689.0,250.6 L689.5,250.5 L690.0,250.3 L690.5,250.1 L691.0,249.8 L691.5,249.5 L692.0,249.2 L692.5,248.8 L693.0,248.3 L693.5,247.8 L694.0,247.3 L694.5,246.6 L695.0,246.0 L695.5,245.3 L696.0,244.5 L696.5,243.8 L697.0,243.0 L697.5,242.2 L698.0,241.4 L698.5,240.6 L699.0,239.9 L699.5,239.3 L700.0,238.7 L700.5,238.2 L701.0,237.8 L701.5,237.6 L702.0,237.4 L702.5,237.4 L703.0,237.5 L703.5,237.7 L704.0,238.0 L704.5,238.4 L705.0,238.9 L705.5,239.4 L706.0,240.1 L706.5,240.8 L707.0,241.5 L707.5,242.3 L708.0,243.0 L708.5,243.8 L709.0,244.6 L709.5,245.3 L710.0,246.0 L710.5,246.6 L711.0,247.3 L711.5,247.8 L712.0,248.3 L712.5,248.8 L713.0,249.2 L713.5,249.6 L714.0,249.9 L714.5,250.1 L715.0,250.4 L715.5,250.6 L716.0,250.7 L716.5,250.9 L717.0,251.0 L717.5,251.1 L717.5,251.4 Z" fill="#f78c7e"/>
<path d="M689.0,250.6 L689.5,250.5 L690.0,250.3 L690.5,250.1 L691.0,249.8 L691.5,249.5 L692.0,249.2 L692.5,248.8 L693.0,248.3 L693.5,247.8 L694.0,247.3 L694.5,246.6 L695.0,246.0 L695.5,245.3 L696.0,244.5 L696.5,243.8 L697.0,243.0 L697.5,242.2 L698.0,241.4 L698.5,240.6 L699.0,239.9 L699.5,239.3 L700.0,238.7 L700.5,238.2 L701.0,237.8 L701.5,237.6 L702.0,237.4 L702.5,237.4 L703.0,237.5 L703.5,237.7 L704.0,238.0 L704.5,238.4 L705.0,238.9 L705.5,239.4 L706.0,240.1 L706.5,240.8 L707.0,241.5 L707.5,242.3 L708.0,243.0 L708.5,243.8 L709.0,244.6 L709.5,245.3 L710.0,246.0 L710.5,246.6 L711.0,247.3 L711.5,247.8 L712.0,248.3 L712.5,248.8 L713.0,249.2 L713.5,249.6 L714.0,249.9 L714.5,250.1 L715.0,250.4 L715.5,250.6 L716.0,250.7" fill="none" stroke="#a4727a" stroke-width="0.7"/>
<line x1="688" y1="251.4" x2="717.5" y2="251.5" stroke="#e05a5a" stroke-width="0.8"/>
<!-- peak delimiters -->
<line x1="514.3" y1="245" x2="514.3" y2="250" stroke="#3a3ab8" stroke-width="0.9"/>
<line x1="551.3" y1="249.6" x2="551.3" y2="254.2" stroke="#3a3ab8" stroke-width="0.9"/>
<line x1="622.2" y1="243.2" x2="622.2" y2="247.3" stroke="#333" stroke-width="0.8"/>
<line x1="648.4" y1="248.4" x2="648.4" y2="253.6" stroke="#333" stroke-width="0.8"/>
<line x1="685.4" y1="246" x2="685.4" y2="251.3" stroke="#333" stroke-width="0.8"/>
<line x1="719.4" y1="251.5" x2="719.4" y2="255.8" stroke="#111" stroke-width="1.2"/>
<!-- apex ticks + labels -->
<line x1="531.5" y1="45.6" x2="531.5" y2="50" stroke="#333" stroke-width="0.8"/>
<text x="533.6" y="49.2" class="pk">1 - 9.677</text>
<line x1="636.8" y1="168.2" x2="636.8" y2="172.8" stroke="#333" stroke-width="0.8"/>
<text x="638.2" y="171.3" class="pk">2 - 11.823</text>
<line x1="702.4" y1="233" x2="702.4" y2="237.2" stroke="#333" stroke-width="0.8"/>
<text x="704" y="236.2" class="pk" style="fill:#dd6458;font-weight:bold;font-size:6.7px">3 - 13.170</text>
<!-- arrow + label -->
<polygon points="641.5,160.6 641.9,160.8 665.1,128.9 667.3,132.2 668.8,119.1 656.0,125.0 661.3,126.4" fill="#111"/>
<text x="671" y="104.6" style="font-size:13.3px;font-weight:900;fill:#111">克林霉素</text>
</svg>
<div class="bg" style="top:375.6px;height:37.1px;background:#1f2ec0"></div>
<div class="bg" style="top:412.7px;height:35.3px;background:#a6caf0"></div>
<div class="bg" style="top:412px;height:1px;background:#00003a"></div>
<div class="bg" style="top:447.9px;height:2px;background:#00007c"></div>
<div class="bg" style="top:465.9px;height:1.8px;background:#00007c"></div>
<div class="bg" style="top:467.6px;height:54.4px;background:#1f2ec0"></div>
<div class="c h" style="top:376.8px;height:18.6px;line-height:18.6px;left:6.4px;width:120px;text-align:center">峰</div>
<div class="c h" style="top:376.8px;height:18.6px;line-height:18.6px;left:93.6px;width:120px;text-align:left">峰名称</div>
<div class="c h" style="top:376.8px;height:18.6px;line-height:18.6px;left:221.0px;width:120px;text-align:center">保留时间</div>
<div class="c h" style="top:376.8px;height:18.6px;line-height:18.6px;left:299.0px;width:120px;text-align:center">样品量</div>
<div class="c h" style="top:376.8px;height:18.6px;line-height:18.6px;left:379.0px;width:120px;text-align:center">相对峰面积</div>
<div class="c h" style="top:376.8px;height:18.6px;line-height:18.6px;left:460.4px;width:120px;text-align:center">峰面积</div>
<div class="c h" style="top:376.8px;height:18.6px;line-height:18.6px;left:540.5px;width:120px;text-align:center">峰高</div>
<div class="c h" style="top:376.8px;height:18.6px;line-height:18.6px;left:615.5px;width:120px;text-align:center">类型</div>
<div class="c h" style="top:376.8px;height:18.6px;line-height:18.6px;left:691.6px;width:120px;text-align:center">峰宽 <span class="L">(50%)</span></div>
<div class="c h" style="top:376.8px;height:18.6px;line-height:18.6px;left:768.0px;width:120px;text-align:center">不对称度</div>
<div class="c h" style="top:376.8px;height:18.6px;line-height:18.6px;left:834.5px;width:120px;text-align:center">分离度</div>
<div class="c h" style="top:376.8px;height:18.6px;line-height:18.6px;left:902.0px;width:120px;text-align:center">塔板数</div>
<div class="c h" style="top:396.0px;height:18.6px;line-height:18.6px;left:6.4px;width:120px;text-align:center">序号</div>
<div class="c h L" style="top:396.0px;height:18.6px;line-height:18.6px;left:221.0px;width:120px;text-align:center">min</div>
<div class="c h L" style="top:396.0px;height:18.6px;line-height:18.6px;left:300.4px;width:120px;text-align:center">n.a.</div>
<div class="c h L" style="top:396.0px;height:18.6px;line-height:18.6px;left:382.6px;width:120px;text-align:center">%</div>
<div class="c h L" style="top:396.0px;height:18.6px;line-height:18.6px;left:461.9px;width:120px;text-align:center">mAU*min</div>
<div class="c h L" style="top:396.0px;height:18.6px;line-height:18.6px;left:542.8px;width:120px;text-align:center">mAU</div>
<div class="c h L" style="top:396.0px;height:18.6px;line-height:18.6px;left:691.6px;width:120px;text-align:center">min</div>
<div class="c h L" style="top:396.0px;height:18.6px;line-height:18.6px;left:768.0px;width:120px;text-align:center">EP</div>
<div class="c h L" style="top:396.0px;height:18.6px;line-height:18.6px;left:835.3px;width:120px;text-align:center">EP</div>
<div class="c h L" style="top:396.0px;height:18.6px;line-height:18.6px;left:902.3px;width:120px;text-align:center">EP</div>
<div class="c d" style="top:413.4px;height:18.3px;line-height:18.3px;left:6.4px;width:120px;text-align:center">1</div>
<div class="c d" style="top:413.4px;height:18.3px;line-height:18.3px;left:188.6px;width:120px;text-align:right">9.677</div>
<div class="c d" style="top:413.4px;height:18.3px;line-height:18.3px;left:278.9px;width:120px;text-align:right">n.a.</div>
<div class="c d" style="top:413.4px;height:18.3px;line-height:18.3px;left:355.0px;width:120px;text-align:right">68.39</div>
<div class="c d" style="top:413.4px;height:18.3px;line-height:18.3px;left:435.5px;width:120px;text-align:right">15.7277</div>
<div class="c d" style="top:413.4px;height:18.3px;line-height:18.3px;left:515.5px;width:120px;text-align:right">69.45</div>
<div class="c d b" style="top:413.4px;height:18.3px;line-height:18.3px;left:659.0px;width:120px;text-align:left">BMB*</div>
<div class="c d" style="top:413.4px;height:18.3px;line-height:18.3px;left:666.2px;width:120px;text-align:right">0.208</div>
<div class="c d" style="top:413.4px;height:18.3px;line-height:18.3px;left:733.8px;width:120px;text-align:right">1.08</div>
<div class="c d" style="top:413.4px;height:18.3px;line-height:18.3px;left:800.8px;width:120px;text-align:right">6.05</div>
<div class="c d" style="top:413.4px;height:18.3px;line-height:18.3px;left:867.6px;width:120px;text-align:right">11943</div>
<div class="c d" style="top:431.4px;height:18.8px;line-height:18.8px;left:6.4px;width:120px;text-align:center">2</div>
<div class="c d" style="top:431.4px;height:18.8px;line-height:18.8px;left:188.6px;width:120px;text-align:right">11.823</div>
<div class="c d" style="top:431.4px;height:18.8px;line-height:18.8px;left:278.9px;width:120px;text-align:right">n.a.</div>
<div class="c d" style="top:431.4px;height:18.8px;line-height:18.8px;left:355.0px;width:120px;text-align:right">25.77</div>
<div class="c d" style="top:431.4px;height:18.8px;line-height:18.8px;left:435.5px;width:120px;text-align:right">5.9261</div>
<div class="c d" style="top:431.4px;height:18.8px;line-height:18.8px;left:515.5px;width:120px;text-align:right">26.60</div>
<div class="c d b" style="top:431.4px;height:18.8px;line-height:18.8px;left:659.0px;width:120px;text-align:left">BMB*</div>
<div class="c d" style="top:431.4px;height:18.8px;line-height:18.8px;left:666.2px;width:120px;text-align:right">0.210</div>
<div class="c d" style="top:431.4px;height:18.8px;line-height:18.8px;left:733.8px;width:120px;text-align:right">0.96</div>
<div class="c d" style="top:431.4px;height:18.8px;line-height:18.8px;left:800.8px;width:120px;text-align:right">3.37</div>
<div class="c d" style="top:431.4px;height:18.8px;line-height:18.8px;left:867.6px;width:120px;text-align:right">17572</div>
<div class="c i" style="top:451.4px;height:16.4px;line-height:16.4px;left:7.4px;width:120px;text-align:center">3</div>
<div class="c i" style="top:451.4px;height:16.4px;line-height:16.4px;left:191.5px;width:120px;text-align:right">13.170</div>
<div class="c i" style="top:451.4px;height:16.4px;line-height:16.4px;left:280.7px;width:120px;text-align:right">n.a.</div>
<div class="c i" style="top:451.4px;height:16.4px;line-height:16.4px;left:356.5px;width:120px;text-align:right">5.84</div>
<div class="c i" style="top:451.4px;height:16.4px;line-height:16.4px;left:437.0px;width:120px;text-align:right">1.3431</div>
<div class="c i" style="top:451.4px;height:16.4px;line-height:16.4px;left:517.0px;width:120px;text-align:right">4.83</div>
<div class="c i b" style="top:451.4px;height:16.4px;line-height:16.4px;left:660.6px;width:120px;text-align:left">BMB*</div>
<div class="c i" style="top:451.4px;height:16.4px;line-height:16.4px;left:668.5px;width:120px;text-align:right">0.262</div>
<div class="c i" style="top:451.4px;height:16.4px;line-height:16.4px;left:736.0px;width:120px;text-align:right">0.97</div>
<div class="c i" style="top:451.4px;height:16.4px;line-height:16.4px;left:806.5px;width:120px;text-align:right">n.a.</div>
<div class="c i" style="top:451.4px;height:16.4px;line-height:16.4px;left:869.5px;width:120px;text-align:right">14039</div>
<div class="c h" style="top:468.4px;height:18.4px;line-height:18.4px;left:43.7px;width:120px;text-align:left">最大值</div>
<div class="c h s" style="top:468.4px;height:18.4px;line-height:18.4px;left:275.0px;width:120px;text-align:right">0.0000</div>
<div class="c h s" style="top:468.4px;height:18.4px;line-height:18.4px;left:355.0px;width:120px;text-align:right">68.39</div>
<div class="c h s" style="top:468.4px;height:18.4px;line-height:18.4px;left:435.5px;width:120px;text-align:right">15.7277</div>
<div class="c h s" style="top:468.4px;height:18.4px;line-height:18.4px;left:515.5px;width:120px;text-align:right">69.45</div>
<div class="c h s" style="top:468.4px;height:18.4px;line-height:18.4px;left:666.6px;width:120px;text-align:right">0.262</div>
<div class="c h s" style="top:468.4px;height:18.4px;line-height:18.4px;left:733.9px;width:120px;text-align:right">1.08</div>
<div class="c h s" style="top:468.4px;height:18.4px;line-height:18.4px;left:800.9px;width:120px;text-align:right">6.05</div>
<div class="c h s" style="top:468.4px;height:18.4px;line-height:18.4px;left:868.0px;width:120px;text-align:right">17572</div>
<div class="c h" style="top:486.6px;height:18.4px;line-height:18.4px;left:43.7px;width:120px;text-align:left">最小值</div>
<div class="c h s" style="top:486.6px;height:18.4px;line-height:18.4px;left:275.0px;width:120px;text-align:right">0.0000</div>
<div class="c h s" style="top:486.6px;height:18.4px;line-height:18.4px;left:355.0px;width:120px;text-align:right">5.84</div>
<div class="c h s" style="top:486.6px;height:18.4px;line-height:18.4px;left:435.5px;width:120px;text-align:right">1.3431</div>
<div class="c h s" style="top:486.6px;height:18.4px;line-height:18.4px;left:515.5px;width:120px;text-align:right">4.83</div>
<div class="c h s" style="top:486.6px;height:18.4px;line-height:18.4px;left:666.6px;width:120px;text-align:right">0.208</div>
<div class="c h s" style="top:486.6px;height:18.4px;line-height:18.4px;left:733.9px;width:120px;text-align:right">0.96</div>
<div class="c h s" style="top:486.6px;height:18.4px;line-height:18.4px;left:800.9px;width:120px;text-align:right">3.37</div>
<div class="c h s" style="top:486.6px;height:18.4px;line-height:18.4px;left:868.0px;width:120px;text-align:right">11943</div>
<div class="c h" style="top:504.6px;height:18.4px;line-height:18.4px;left:43.7px;width:120px;text-align:left">总和</div>
<div class="c h s" style="top:504.6px;height:18.4px;line-height:18.4px;left:275.0px;width:120px;text-align:right">0.0000</div>
<div class="c h s" style="top:504.6px;height:18.4px;line-height:18.4px;left:355.0px;width:120px;text-align:right">100.00</div>
<div class="c h s" style="top:504.6px;height:18.4px;line-height:18.4px;left:435.5px;width:120px;text-align:right">22.9969</div>
<div class="c h s" style="top:504.6px;height:18.4px;line-height:18.4px;left:515.5px;width:120px;text-align:right">100.89</div>
</body></html>
